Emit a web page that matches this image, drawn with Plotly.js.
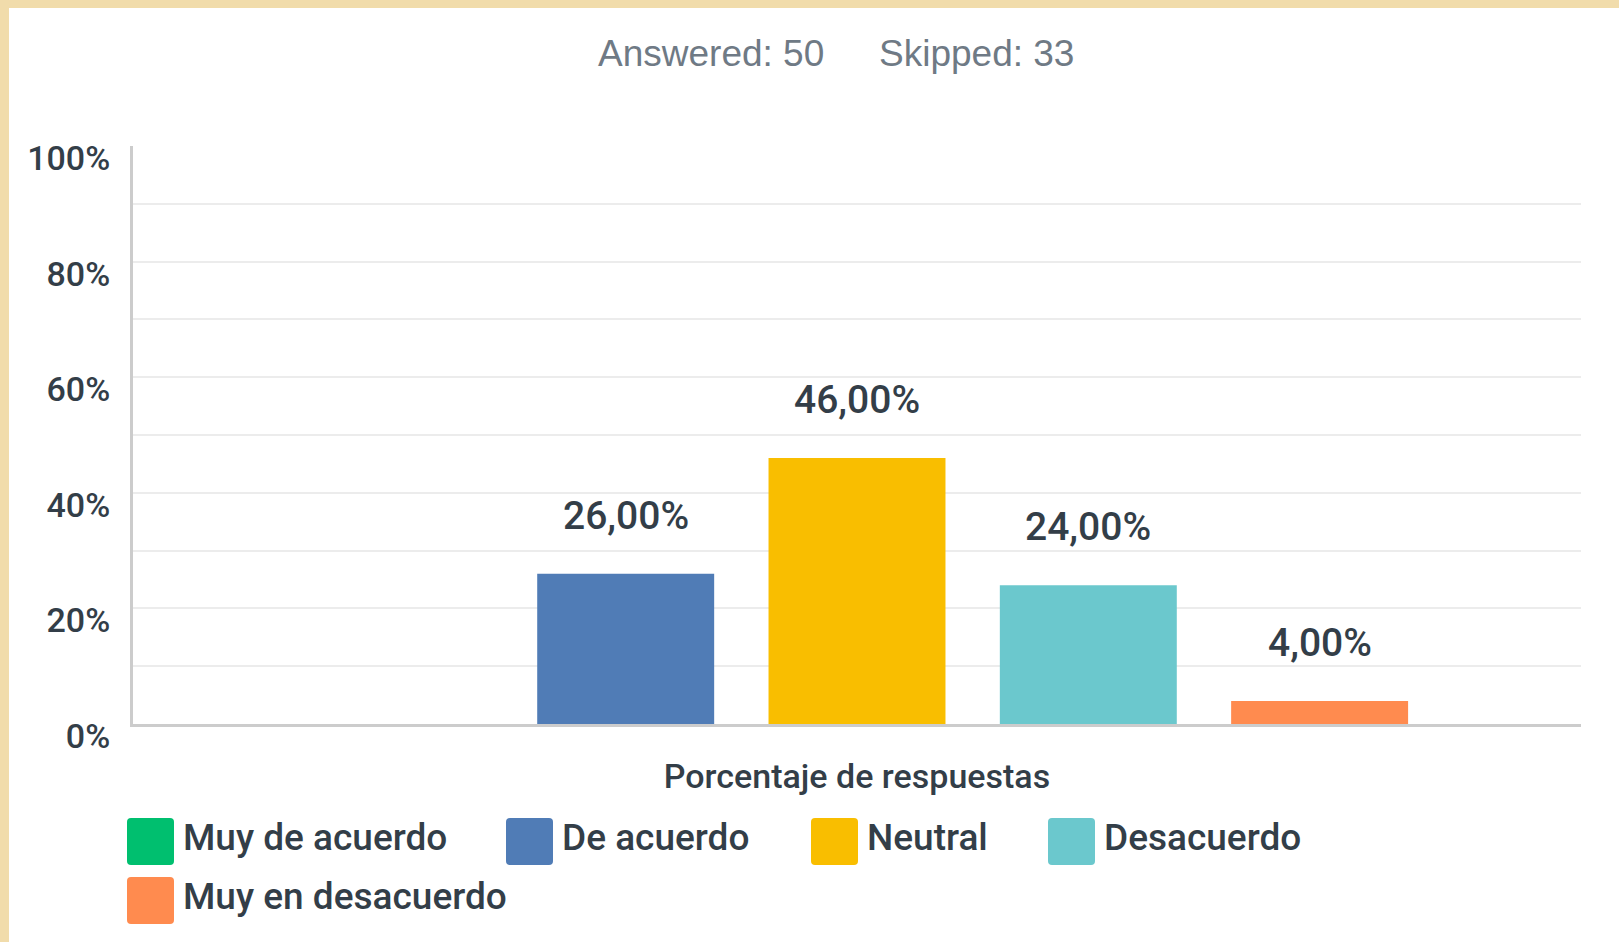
<!DOCTYPE html>
<html>
<head>
<meta charset="utf-8">
<script src="https://cdn.plot.ly/plotly-3.0.1.min.js"></script>
<style>
  html, body { margin: 0; padding: 0; background: #f1dcab; width: 1619px; height: 942px; overflow: hidden; }
  #chart { position: absolute; left: 9px; top: 8px; width: 1610px; height: 934px; background: #ffffff; }
</style>
</head>
<body>
<div id="chart"></div>
<script>
// ---- data ----
const categories = ["Muy de acuerdo", "De acuerdo", "Neutral", "Desacuerdo", "Muy en desacuerdo"];
const percentages = [0, 26, 46, 24, 4];
const colors = ["#00bf6f", "#507cb6", "#f9be00", "#6bc8cd", "#ff8b4f"];
const yTickValues = [0, 20, 40, 60, 80, 100];
const yTickLabels = ["0%", "20%", "40%", "60%", "80%", "100%"];
const answered = 50;
const skipped = 33;
const xAxisTitle = "Porcentaje de respuestas";

// ---- layout constants ----
const W = 1610, H = 934;
const M = { l: 124, r: 38, t: 138, b: 218 };
const plotW = W - M.l - M.r, plotH = H - M.t - M.b;
const px2x = (x) => (x - M.l) / plotW;       // div px -> paper x
const px2y = (y) => (H - M.b - y) / plotH;   // div px -> paper y
const DARK = "#333e48";
const FONT = "Roboto, 'Noto Sans', sans-serif";

function fmt(v) { return v.toFixed(2).replace(".", ",") + "%"; }

const trace = {
  type: "bar",
  x: categories,
  y: percentages,
  marker: { color: colors },
  textposition: "none",
  hoverinfo: "x+y",
  showlegend: false
};

const annotations = [];
// value labels above bars
categories.forEach((c, i) => {
  if (percentages[i] > 0) {
    annotations.push({
      xref: "x", yref: "y", x: c, y: percentages[i],
      text: fmt(percentages[i]), showarrow: false,
      xanchor: "center", yanchor: "middle", yshift: 58,
      font: { family: FONT, size: 39, color: DARK, weight: 500 }
    });
  }
});
// header
const headFont = { family: "'Liberation Sans', Arial, sans-serif", size: 37, color: "#6f7a85" };
annotations.push({
  xref: "paper", yref: "paper", x: px2x(587), y: px2y(45),
  xanchor: "left", yanchor: "middle", showarrow: false,
  text: "Answered: " + answered, font: headFont
});
annotations.push({
  xref: "paper", yref: "paper", x: px2x(868), y: px2y(45),
  xanchor: "left", yanchor: "middle", showarrow: false,
  text: "Skipped: " + skipped, font: headFont
});

// custom legend (large rounded swatches)
const legendPos = [
  { x: 118, y: 810 }, { x: 497, y: 810 }, { x: 802, y: 810 }, { x: 1039, y: 810 },
  { x: 118, y: 869 }
];
const SW = 47, R = 4;
const shapes = [];
categories.forEach((c, i) => {
  const p = legendPos[i];
  // pixel path relative to the swatch's bottom-left corner (pixel y grows upward)
  const path = `M${R},0 H${SW - R} Q${SW},0 ${SW},${R} V${SW - R} Q${SW},${SW} ${SW - R},${SW} H${R} Q0,${SW} 0,${SW - R} V${R} Q0,0 ${R},0 Z`;
  shapes.push({
    type: "path", xref: "paper", yref: "paper",
    xsizemode: "pixel", ysizemode: "pixel",
    xanchor: px2x(p.x), yanchor: px2y(p.y + SW),
    path: path,
    fillcolor: colors[i], line: { width: 0 }, layer: "above"
  });
  annotations.push({
    xref: "paper", yref: "paper", x: px2x(p.x + 54), y: px2y(p.y + SW / 2 - 4),
    xanchor: "left", yanchor: "middle", showarrow: false,
    text: c, font: { family: FONT, size: 37, color: DARK, weight: 500 }
  });
});

const layout = {
  width: W, height: H,
  margin: M,
  paper_bgcolor: "#ffffff", plot_bgcolor: "#ffffff",
  showlegend: false,
  bargap: 0.235,
  xaxis: {
    type: "category",
    range: [-1.13, categories.length - 1 + 1.13],
    showticklabels: false, ticks: "",
    showgrid: false, zeroline: false,
    showline: true, linecolor: "#cccccc", linewidth: 3,
    fixedrange: true,
    title: { text: xAxisTitle, standoff: 39, font: { family: FONT, size: 34, color: DARK, weight: 500 } }
  },
  yaxis: {
    range: [0, 100],
    tickmode: "array",
    tickvals: yTickValues,
    ticktext: yTickLabels,
    ticks: "",
    tickfont: { family: FONT, size: 34, color: DARK, weight: 500 },
    ticklabelshift: 12,
    ticklabelstandoff: 13,
    showgrid: true, gridcolor: "#ececec", gridwidth: 2,
    minor: { dtick: 10, showgrid: true, gridcolor: "#ececec", gridwidth: 2 },
    zeroline: false,
    showline: true, linecolor: "#cccccc", linewidth: 3,
    fixedrange: true
  },
  shapes: shapes,
  annotations: annotations
};

Plotly.newPlot("chart", [trace], layout, { displayModeBar: false, staticPlot: true });
</script>
</body>
</html>
